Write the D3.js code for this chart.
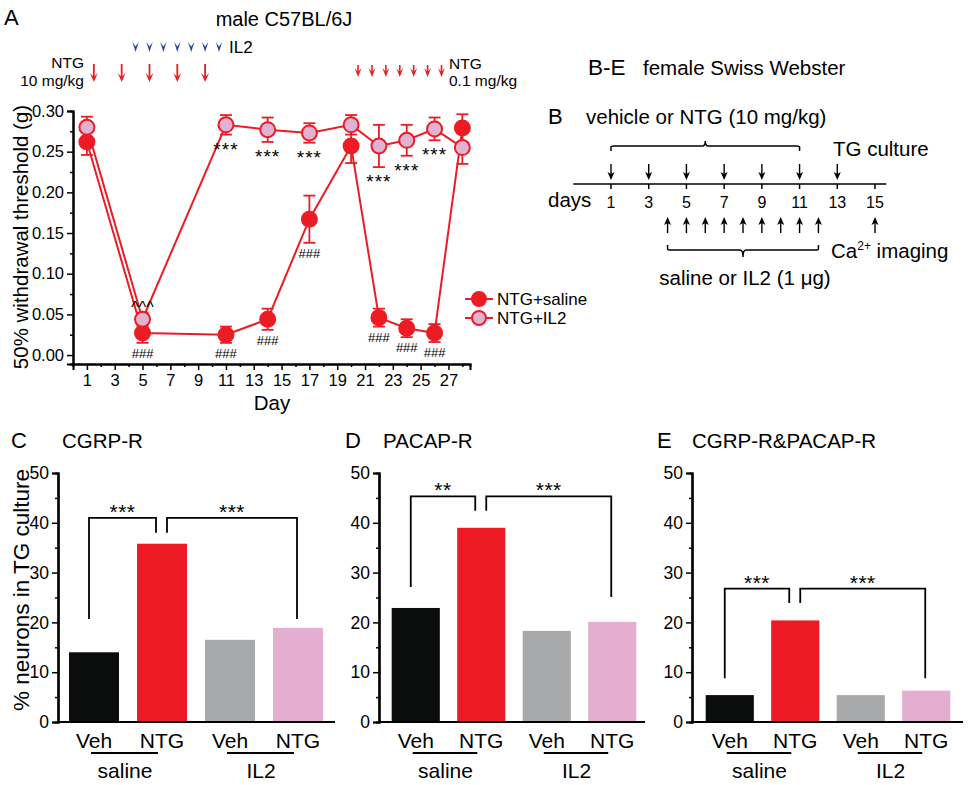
<!DOCTYPE html>
<html><head><meta charset="utf-8">
<script src="https://cdn.jsdelivr.net/npm/d3@7"></script>
<style>body{margin:0;background:#fff} svg{font-family:Arial,"Liberation Sans",sans-serif}</style>
</head><body><svg id="c" width="970" height="785"></svg>
<script>
// ---------- DATA ----------
const days = [1,5,11,14,17,20,22,24,26,28];
const salineMean = [0.262,0.027,0.025,0.044,0.167,0.257,0.046,0.033,0.027,0.279];
const salineErr  = [0.016,0.012,0.010,0.013,0.029,0.021,0.011,0.011,0.011,0.017];
const il2Mean    = [0.280,0.044,0.283,0.277,0.273,0.283,0.257,0.264,0.278,0.255];
const il2Err     = [0.013,0.008,0.012,0.015,0.012,0.012,0.026,0.019,0.014,0.020];
const starDays   = [11,14,17,22,24,26];       // *** vs NTG+saline (below IL2)
const hashDays   = [5,11,14,17,22,24,26];     // ### vs baseline (below saline)
const caretDays  = [5];                        // ^^^ (above IL2)
const xTicksA    = [1,3,5,7,9,11,13,15,17,19,21,23,25,27];
const yTicksA    = [0,0.05,0.10,0.15,0.20,0.25,0.30];
const il2Days    = [4.5,5.5,6.5,7.5,8.5,9.5,10.5];
const ntgHighDays= [1.5,3.5,5.5,7.5,9.5];
const ntgLowDays = [20.5,21.5,22.5,23.5,24.5,25.5,26.5];

const barCats   = ["saline-Veh","saline-NTG","IL2-Veh","IL2-NTG"];
const barLabels = ["Veh","NTG","Veh","NTG"];
const groupLabels = ["saline","IL2"];
const cgrpVals  = [14.0,35.8,16.5,18.9];
const pacapVals = [22.9,39.0,18.3,20.1];
const bothVals  = [5.4,20.4,5.4,6.3];
// brackets: [left leg bottom, top, inner bottom, right leg bottom]
const cgrpBr  = [20.7,41.0,38.0,20.7];
const pacapBr = [27.1,45.3,42.4,25.1];
const bothBr  = [8.8,26.8,23.9,8.8];
const cgrpSig = ["***","***"], pacapSig = ["**","***"], bothSig = ["***","***"];
const yTicksBar = [0,10,20,30,40,50];

const schemDays = [1,3,5,7,9,11,13,15];
const vehDays   = [1,3,5,7,9,11,13];
const ilDays    = [4,5,6,7,8,9,10,11,12,15];

const RED="#ed1c24", PINK="#e0b3d3", BLUE="#2b4a9b";
const barColors=["#0b0c0c","#ed1c24","#a7a9ab","#e3aed0"];
const FONT="Arial,Liberation Sans";

const svg=d3.select("#c");

// ---------- PANEL A ----------
const xA=d3.scaleLinear().domain([0,28.55]).range([73,470]);
const yA=d3.scaleLinear().domain([-0.011,0.30]).range([364,111]);
const gA=svg.append("g");

gA.append("g").attr("transform","translate(73,0)")
  .call(d3.axisLeft(yA).tickValues(yTicksA).tickFormat(d3.format(".2f")).tickSizeOuter(0).tickSize(6).tickPadding(3));
gA.append("g").attr("transform","translate(73,0)")
  .call(d3.axisLeft(yA).tickValues(d3.range(0.025,0.30,0.05)).tickFormat("").tickSizeOuter(0).tickSize(3));
gA.append("g").attr("transform","translate(0,364)")
  .call(d3.axisBottom(xA).tickValues(xTicksA).tickSizeOuter(0).tickSize(6).tickPadding(4));
gA.append("g").attr("transform","translate(0,364)")
  .call(d3.axisBottom(xA).tickValues(d3.range(2,29,2)).tickFormat("").tickSizeOuter(0).tickSize(3));
gA.selectAll(".domain").attr("stroke","#000").attr("stroke-width",2);
gA.selectAll(".tick line").attr("stroke","#000").attr("stroke-width",1.5);
gA.selectAll(".tick text").attr("font-size",16.5).attr("fill","#000").attr("font-family",FONT);

gA.append("text").attr("transform","translate(28,237) rotate(-90)").attr("text-anchor","middle")
  .attr("font-size",20.5).text("50% withdrawal threshold (g)");
gA.append("text").attr("x",272).attr("y",410).attr("text-anchor","middle").attr("font-size",20.5).text("Day");

const line=d3.line().x(d=>xA(d[0])).y(d=>yA(d[1]));
const sData=days.map((d,i)=>[d,salineMean[i],salineErr[i]]);
const iData=days.map((d,i)=>[d,il2Mean[i],il2Err[i]]);
function drawSeries(data,fill){
  gA.append("path").datum(data).attr("d",line).attr("fill","none").attr("stroke",RED).attr("stroke-width",2);
  const eb=gA.append("g").attr("stroke",RED).attr("stroke-width",1.8);
  data.forEach(d=>{
    const x=xA(d[0]),y1=yA(d[1]+d[2]),y0=yA(d[1]-d[2]);
    eb.append("line").attr("x1",x).attr("x2",x).attr("y1",y1).attr("y2",y0);
    eb.append("line").attr("x1",x-6).attr("x2",x+6).attr("y1",y1).attr("y2",y1);
    eb.append("line").attr("x1",x-6).attr("x2",x+6).attr("y1",y0).attr("y2",y0);
  });
  gA.append("g").selectAll("circle").data(data).join("circle")
    .attr("cx",d=>xA(d[0])).attr("cy",d=>yA(d[1])).attr("r",7.5)
    .attr("fill",fill).attr("stroke",RED).attr("stroke-width",2);
}
drawSeries(sData,RED);
drawSeries(iData,PINK);

starDays.forEach(d=>{const i=days.indexOf(d);
  gA.append("text").attr("x",xA(d)).attr("y",yA(il2Mean[i]-il2Err[i])+21).attr("text-anchor","middle")
    .attr("font-size",19).attr("letter-spacing",1).text("***");});
hashDays.forEach(d=>{const i=days.indexOf(d);
  gA.append("text").attr("x",xA(d)).attr("y",yA(salineMean[i]-salineErr[i])+15).attr("text-anchor","middle")
    .attr("font-size",13).text("###");});
caretDays.forEach(d=>{const i=days.indexOf(d);
  gA.append("text").attr("x",xA(d)).attr("y",yA(il2Mean[i])-6).attr("text-anchor","middle")
    .attr("font-size",16).text("^^^");});

// legend
[[RED,"NTG+saline",299],[PINK,"NTG+IL2",318]].forEach(l=>{
  gA.append("line").attr("x1",465).attr("x2",493).attr("y1",l[2]).attr("y2",l[2]).attr("stroke",RED).attr("stroke-width",2);
  gA.append("circle").attr("cx",479).attr("cy",l[2]).attr("r",7).attr("fill",l[0]).attr("stroke",RED).attr("stroke-width",2);
  gA.append("text").attr("x",497).attr("y",l[2]+6).attr("font-size",17).text(l[1]);
});

// top annotations
svg.append("text").attr("x",4).attr("y",25).attr("font-size",22).text("A");
svg.append("text").attr("x",284).attr("y",26).attr("text-anchor","middle").attr("font-size",20).text("male C57BL/6J");
function arrowHead(g,x,tipY,len,w,color){
  g.append("path").attr("d",`M${x-w},${tipY-len} L${x},${tipY} L${x+w},${tipY-len} L${x},${tipY-len*0.55} Z`).attr("fill",color);
}
il2Days.forEach(d=>arrowHead(svg,xA(d),52,10,3.2,BLUE));
svg.append("text").attr("x",229).attr("y",53).attr("font-size",17).text("IL2");
ntgHighDays.forEach(d=>{
  svg.append("line").attr("x1",xA(d)).attr("x2",xA(d)).attr("y1",64).attr("y2",78).attr("stroke",RED).attr("stroke-width",1.8);
  arrowHead(svg,xA(d),82,9,4,RED);
});
svg.append("text").attr("x",84).attr("y",68).attr("text-anchor","end").attr("font-size",15.5).text("NTG");
svg.append("text").attr("x",84).attr("y",86).attr("text-anchor","end").attr("font-size",15.5).text("10 mg/kg");
ntgLowDays.forEach(d=>{
  svg.append("line").attr("x1",xA(d)).attr("x2",xA(d)).attr("y1",65).attr("y2",72).attr("stroke",RED).attr("stroke-width",1.6);
  arrowHead(svg,xA(d),77,9,3.5,RED);
});
svg.append("text").attr("x",449).attr("y",69).attr("font-size",15.5).text("NTG");
svg.append("text").attr("x",449).attr("y",86).attr("font-size",15.5).text("0.1 mg/kg");

// ---------- PANEL B ----------
const xB=d3.scaleLinear().domain([1,15]).range([611,875]);
const gB=svg.append("g");
gB.append("text").attr("x",588).attr("y",75).attr("font-size",22.5).text("B-E");
gB.append("text").attr("x",643).attr("y",75).attr("font-size",20.5).text("female Swiss Webster");
gB.append("text").attr("x",548).attr("y",124).attr("font-size",22).text("B");
gB.append("text").attr("x",586).attr("y",124).attr("font-size",20.5).text("vehicle or NTG (10 mg/kg)");
gB.append("line").attr("x1",xB(-1)).attr("x2",xB(15.6)).attr("y1",184).attr("y2",184).attr("stroke","#000").attr("stroke-width",1.6);
schemDays.forEach(d=>{
  gB.append("line").attr("x1",xB(d)).attr("x2",xB(d)).attr("y1",184).attr("y2",189).attr("stroke","#000").attr("stroke-width",1.5);
  gB.append("text").attr("x",xB(d)).attr("y",208).attr("text-anchor","middle").attr("font-size",16).text(d);
});
gB.append("text").attr("x",548).attr("y",207).attr("font-size",20.5).text("days");
vehDays.forEach(d=>{
  const x=xB(d);
  gB.append("line").attr("x1",x).attr("x2",x).attr("y1",164).attr("y2",176).attr("stroke","#000").attr("stroke-width",1.4);
  gB.append("path").attr("d",`M${x-3.5},${172} L${x},${180} L${x+3.5},${172} L${x},${174} Z`).attr("fill","#000");
});
ilDays.forEach(d=>{
  const x=xB(d);
  gB.append("line").attr("x1",x).attr("x2",x).attr("y1",221).attr("y2",233).attr("stroke","#000").attr("stroke-width",1.4);
  gB.append("path").attr("d",`M${x-3.5},${225} L${x},${217} L${x+3.5},${225} L${x},${223} Z`).attr("fill","#000");
});
// brackets
gB.append("path").attr("d",`M${xB(1)},151 L${xB(1)},147 Q${xB(1)},146 ${xB(1)+3},146 L${xB(6)-3},146 Q${xB(6)},146 ${xB(6)},141 Q${xB(6)},146 ${xB(6)+3},146 L${xB(11)-3},146 Q${xB(11)},146 ${xB(11)},147 L${xB(11)},151`)
  .attr("fill","none").attr("stroke","#000").attr("stroke-width",1.5);
gB.append("path").attr("d",`M${xB(4)},245 L${xB(4)},249 Q${xB(4)},250 ${xB(4)+3},250 L${xB(8)-3},250 Q${xB(8)},250 ${xB(8)},257 Q${xB(8)},250 ${xB(8)+3},250 L${xB(12)-3},250 Q${xB(12)},250 ${xB(12)},249 L${xB(12)},245`)
  .attr("fill","none").attr("stroke","#000").attr("stroke-width",1.5);
gB.append("text").attr("x",833).attr("y",156).attr("font-size",20.5).text("TG culture");
const ca=gB.append("text").attr("x",831).attr("y",258).attr("font-size",20.5);
ca.append("tspan").text("Ca");
ca.append("tspan").attr("font-size",12).attr("dy",-8).text("2+");
ca.append("tspan").attr("dy",8).text(" imaging");
gB.append("text").attr("x",745).attr("y",285).attr("text-anchor","middle").attr("font-size",20.5).text("saline or IL2 (1 μg)");

// ---------- BAR PANELS ----------
function barPanel(o){
  const g=svg.append("g");
  const x=d3.scaleBand().domain(barCats).range([o.ax+o.off,o.ax+o.off+o.len]).paddingInner(0.265).paddingOuter(0.1325);
  const y=d3.scaleLinear().domain([0,50]).range([722,473]);
  g.append("g").attr("transform",`translate(${o.ax},0)`)
    .call(d3.axisLeft(y).tickValues(yTicksBar).tickSizeOuter(0).tickSize(6).tickPadding(3));
  g.append("g").attr("transform",`translate(${o.ax},0)`)
    .call(d3.axisLeft(y).tickValues(d3.range(5,50,10)).tickFormat("").tickSizeOuter(0).tickSize(3));
  g.selectAll(".domain").attr("stroke","#000").attr("stroke-width",2.2);
  g.selectAll(".tick line").attr("stroke","#000").attr("stroke-width",1.5);
  g.selectAll(".tick text").attr("font-size",17.5).attr("fill","#000").attr("font-family",FONT);
  g.selectAll("rect.bar").data(o.vals).join("rect").attr("class","bar")
    .attr("x",(d,i)=>x(barCats[i])).attr("width",x.bandwidth())
    .attr("y",d=>y(d)).attr("height",d=>y(0)-y(d)).attr("fill",(d,i)=>barColors[i]);
  g.append("line").attr("x1",o.ax).attr("x2",o.xEnd).attr("y1",722).attr("y2",722).attr("stroke","#000").attr("stroke-width",2.2);
  const c=i=>x(barCats[i])+x.bandwidth()/2;
  barLabels.forEach((l,i)=>g.append("text").attr("x",c(i)).attr("y",748).attr("text-anchor","middle").attr("font-size",21).text(l));
  [[0,1],[2,3]].forEach((p,k)=>{
    g.append("line").attr("x1",c(p[0])-3).attr("x2",c(p[1])-4).attr("y1",753).attr("y2",753).attr("stroke","#000").attr("stroke-width",1.8);
    g.append("text").attr("x",(c(p[0])+c(p[1]))/2-3).attr("y",778).attr("text-anchor","middle").attr("font-size",21).text(groupLabels[k]);
  });
  const b=o.br, lx=c(0)-5, ix1=c(1)-6, ix2=c(1)+5, rx=c(3)-1;
  g.append("path").attr("d",`M${lx},${y(b[0])} V${y(b[1])} H${ix1} V${y(b[2])}`).attr("fill","none").attr("stroke","#000").attr("stroke-width",1.8);
  g.append("path").attr("d",`M${ix2},${y(b[2])} V${y(b[1])} H${rx} V${y(b[3])}`).attr("fill","none").attr("stroke","#000").attr("stroke-width",1.8);
  g.append("text").attr("x",(lx+ix1)/2).attr("y",y(b[1])+1).attr("text-anchor","middle").attr("font-size",21).attr("letter-spacing",0.5).text(o.sig[0]);
  g.append("text").attr("x",(ix2+rx)/2).attr("y",y(b[1])+1).attr("text-anchor","middle").attr("font-size",21).attr("letter-spacing",0.5).text(o.sig[1]);
  g.append("text").attr("x",o.letterX).attr("y",448).attr("font-size",22).text(o.letter);
  g.append("text").attr("x",o.titleX).attr("y",448).attr("font-size",20.5).text(o.title);
  return g;
}
barPanel({ax:58,off:2,len:272,xEnd:335,vals:cgrpVals,br:cgrpBr,sig:cgrpSig,letter:"C",letterX:11,title:"CGRP-R",titleX:62});
barPanel({ax:379,off:4,len:262,xEnd:645,vals:pacapVals,br:pacapBr,sig:pacapSig,letter:"D",letterX:345,title:"PACAP-R",titleX:383});
barPanel({ax:692,off:5,len:262,xEnd:963,vals:bothVals,br:bothBr,sig:bothSig,letter:"E",letterX:657,title:"CGRP-R&PACAP-R",titleX:692});
svg.append("text").attr("transform","translate(29,590) rotate(-90)").attr("text-anchor","middle").attr("font-size",22.5).text("% neurons in TG culture");
</script></body></html>
